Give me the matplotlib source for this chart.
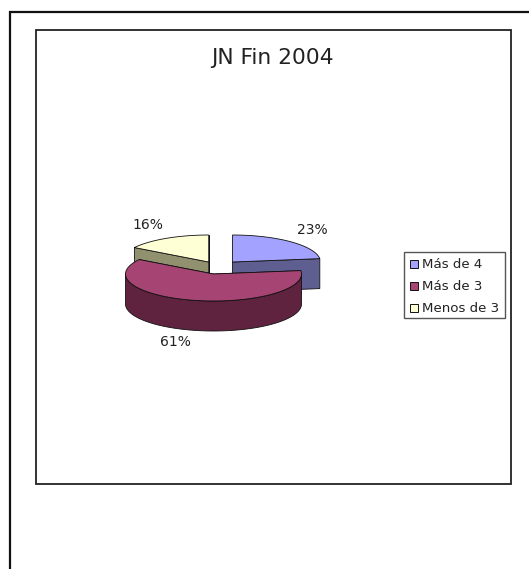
import numpy as np
import matplotlib
matplotlib.use("Agg")
import matplotlib.pyplot as plt
from matplotlib.patches import Polygon, Rectangle

title = "JN Fin 2004"
categories = ["Más de 4", "Más de 3", "Menos de 3"]
values = [23, 61, 16]
top_colors = ["#a3a3ff", "#a64573", "#ffffd6"]
side_colors = ["#5e5e91", "#5f2340", "#91916f"]

# pie geometry, in pixels of the picture
rx, ry, depth = 88, 27, 30
centers = [(232.5, 262), (213.5, 274), (208.7, 262)]
label_pos = [(312, 230), (175.5, 342), (148, 225)]

plt.rcParams["font.family"] = "DejaVu Sans"
fig = plt.figure(figsize=(5.29, 5.69), dpi=100)
ax = fig.add_axes([0, 0, 1, 1])
ax.set_xlim(0, 529)
ax.set_ylim(569, 0)
ax.axis("off")

# outer page frame and inner chart frame
ax.plot([9.5, 9.5, 529], [569, 12, 12], color="#111111", lw=1.6, solid_joinstyle="miter")
ax.add_patch(Rectangle((36, 30), 475, 454, fc="white", ec="#222222", lw=1.3))


def arc(cx, cy, a0, a1):
    # angles clockwise from north
    t = np.radians(np.linspace(a0, a1, 120))
    return np.column_stack([cx + rx * np.sin(t), cy - ry * np.cos(t)])


def slice_3d(i, a0, a1):
    cx, cy = centers[i]
    base = cy + depth
    # cut faces
    for a in (a0, a1):
        p = arc(cx, cy, a, a)[0]
        ax.add_patch(Polygon([(cx, cy), p, (p[0], p[1] + depth), (cx, base)],
                             fc=side_colors[i], ec="#111111", lw=0.6))
    # outer wall, front half only
    lo, hi = max(a0, 90), min(a1, 270)
    if hi > lo:
        r = arc(cx, cy, lo, hi)
        wall = np.vstack([r, (r + [0, depth])[::-1]])
        ax.add_patch(Polygon(wall, fc=side_colors[i], ec="#111111", lw=0.6))
    # top
    ax.add_patch(Polygon(np.vstack([[cx, cy], arc(cx, cy, a0, a1)]),
                         fc=top_colors[i], ec="#111111", lw=0.6))


angles = np.cumsum([0] + values) * 360 / sum(values)
# back slices first, front slice last
for i in (2, 0, 1):
    slice_3d(i, angles[i], angles[i + 1])

for v, (x, y) in zip(values, label_pos):
    ax.text(x, y, f"{v}%", ha="center", va="center", fontsize=10, color="#222222")

ax.text(272.5, 58, title, ha="center", va="center", fontsize=15.7, color="#222222")

# legend
ax.add_patch(Rectangle((403.5, 251.5), 101.5, 66, fc="white", ec="#555555", lw=1))
for i, name in enumerate(categories):
    y = 264 + i * 22
    ax.add_patch(Rectangle((410, y - 4), 7.5, 8, fc=top_colors[i], ec="#111111", lw=0.7))
    ax.text(422, y, name, ha="left", va="center", fontsize=9.6, color="#222222")

fig.savefig("out.png", dpi=100)
